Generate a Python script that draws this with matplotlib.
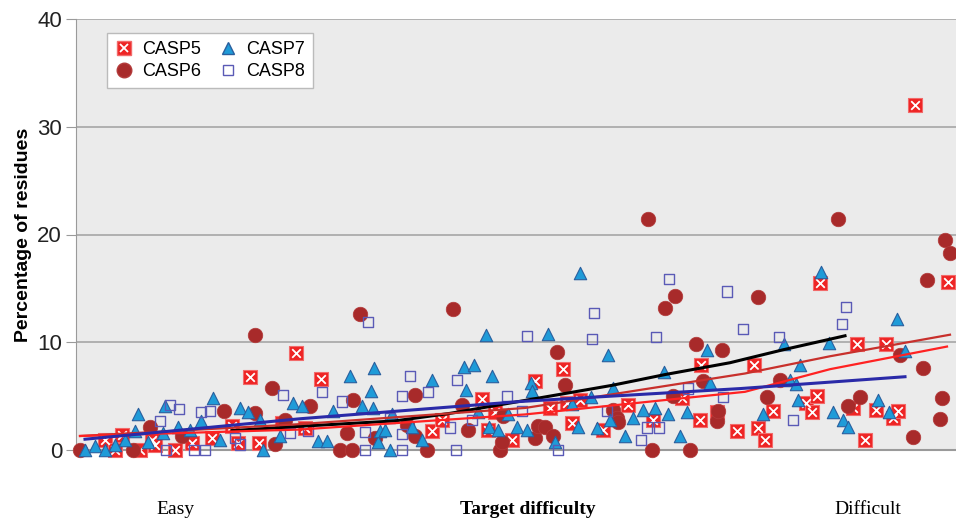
import matplotlib.pyplot as plt
from matplotlib.lines import Line2D
from matplotlib.legend_handler import HandlerTuple

# targets ranked from easy (left) to difficult (right); values are % of residues
casp5_x = [105, 115, 122, 140, 152, 155, 175, 192, 212, 232, 238, 250, 259, 282, 296, 305, 321,
           432, 442, 482, 488, 495, 512, 535, 550, 563, 567, 572, 580, 603, 628, 653, 682, 700,
           701, 717, 737, 754, 758, 765, 773, 806, 812, 817, 820, 853, 857, 865, 876, 886, 893,
           898, 915, 948]
casp5_y = [0.9, 0.0, 1.4, 0.0, 0.9, 0.5, 0.0, 0.65, 1.1, 2.2, 0.65, 6.8, 0.65, 2.5, 9.0, 2.0, 6.6,
           1.8, 2.8, 4.7, 1.9, 3.5, 0.9, 6.4, 3.9, 7.5, 4.4, 2.5, 4.6, 1.9, 4.2, 2.8, 4.8, 2.8,
           7.9, 3.5, 1.8, 7.9, 2.0, 0.9, 3.6, 4.4, 3.5, 5.0, 15.5, 3.9, 9.8, 0.9, 3.7, 9.8, 3.0,
           3.6, 32.0, 15.6]

casp6_x = [80, 133, 150, 182, 224, 255, 255, 272, 275, 285, 310, 340, 347, 352, 353, 360, 375, 407,
           415, 415, 427, 453, 462, 468, 500, 502, 503, 535, 538, 545, 553, 557, 565, 613, 617,
           618, 648, 652, 665, 673, 675, 690, 696, 703, 717, 718, 722, 758, 767, 780, 838, 848,
           860, 900, 913, 923, 927, 940, 942, 945, 950]
casp6_y = [0.0, 0.0, 2.1, 1.3, 3.6, 10.7, 3.4, 5.8, 0.6, 2.8, 4.1, 0.0, 1.6, 0.0, 4.6, 12.6, 1.1, 2.3,
           5.1, 1.3, 0.0, 13.1, 4.2, 1.9, 0.0, 0.7, 3.2, 1.1, 2.2, 2.1, 1.3, 9.1, 6.0, 3.7, 3.0,
           2.6, 21.4, 0.0, 13.2, 5.0, 14.3, 0.0, 9.8, 6.4, 2.7, 3.6, 9.3, 14.2, 4.9, 6.5, 21.4, 4.1,
           4.9, 8.8, 1.2, 7.6, 15.8, 2.9, 4.8, 19.5, 18.3]

casp7_x = [85, 95, 105, 115, 125, 135, 138, 148, 163, 165, 178, 190, 201, 213, 220, 240, 248, 260,
           263, 280, 293, 302, 318, 327, 333, 350, 362, 371, 373, 374, 378, 380, 385, 390, 392,
           412, 422, 432, 464, 466, 474, 478, 486, 489, 492, 498, 508, 517, 527, 531, 532, 548,
           555, 572, 578, 580, 591, 597, 608, 610, 613, 625, 633, 643, 655, 664, 668, 680, 687,
           707, 710, 763, 784, 790, 796, 798, 800, 821, 829, 833, 843, 848, 878, 889, 897, 905]
casp7_y = [0.0, 0.4, 0.0, 0.5, 0.9, 1.8, 3.3, 0.7, 1.6, 4.1, 2.1, 1.9, 2.7, 4.8, 0.9, 3.9, 3.5, 2.8,
           0.0, 1.3, 4.4, 4.1, 0.8, 0.8, 3.6, 6.9, 4.1, 5.5, 3.9, 7.6, 0.7, 1.8, 1.9, 0.0, 3.3,
           2.1, 0.9, 6.5, 7.7, 5.6, 7.9, 3.5, 10.7, 2.1, 6.9, 1.9, 3.3, 2.1, 1.9, 6.2, 5.5, 10.8,
           0.7, 4.3, 2.1, 16.4, 4.9, 2.0, 8.8, 2.8, 5.8, 1.3, 3.0, 3.7, 3.9, 7.2, 3.3, 1.3, 3.5,
           9.3, 6.2, 3.3, 9.8, 6.5, 6.1, 4.6, 7.9, 16.5, 9.9, 3.5, 2.8, 2.1, 4.6, 3.5, 12.2, 9.2]

casp8_x = [160, 166, 170, 179, 194, 201, 205, 210, 235, 240, 283, 290, 308, 322, 342, 365, 365, 368,
           390, 402, 402, 402, 410, 428, 450, 456, 457, 472, 507, 522, 527, 558, 592, 594, 607,
           641, 647, 656, 659, 669, 688, 723, 727, 743, 779, 793, 842, 846]
casp8_y = [2.7, 0.0, 4.2, 3.8, 0.0, 3.5, 0.0, 3.6, 1.1, 0.5, 5.1, 1.6, 1.8, 5.4, 4.5, 1.7, 0.0, 11.9,
           3.0, 5.0, 1.5, 0.0, 6.9, 5.4, 2.1, 0.0, 6.5, 2.8, 5.0, 3.6, 10.6, 0.0, 10.3, 12.7, 3.6,
           0.9, 2.1, 10.5, 2.1, 15.9, 5.7, 4.9, 14.7, 11.2, 10.5, 2.8, 11.7, 13.3]

# trend lines, read along their length
black_x = [232, 300, 395, 450, 525, 612, 665, 730, 783, 845]
black_y = [1.8, 2.2, 2.7, 3.4, 4.6, 6.0, 7.0, 8.1, 9.3, 10.6]
darkred_x = [80, 300, 525, 745, 830, 950]
darkred_y = [1.3, 2.4, 3.9, 7.1, 8.7, 10.7]
red_x = [80, 300, 525, 745, 830, 947]
red_y = [1.3, 1.9, 3.3, 5.4, 7.5, 9.6]
blue_x = [85, 300, 520, 740, 905]
blue_y = [1.0, 2.9, 4.5, 5.7, 6.8]

fig = plt.figure(figsize=(9.56, 5.2), dpi=100)
ax = fig.add_axes([76 / 956, 1 - 450 / 520, 1 - 76 / 956, (450 - 19) / 520])
ax.set_facecolor('#ebebeb')

# CASP5: red box with white cross
ax.scatter(casp5_x, casp5_y, marker='s', s=110, c='#ee2424', edgecolors='#f26a6a',
           linewidths=0.8, clip_on=False, zorder=3)
ax.scatter(casp5_x, casp5_y, marker='x', s=38, c='white', linewidths=1.3,
           clip_on=False, zorder=3)
ax.scatter(casp6_x, casp6_y, marker='o', s=110, c='#a82a2a', edgecolors='#b33a3a',
           linewidths=0.5, clip_on=False, zorder=3)
ax.scatter(casp7_x, casp7_y, marker='^', s=80, c='#1f9bd8', edgecolors='#2a5f9e',
           linewidths=0.8, clip_on=False, zorder=3)
ax.scatter(casp8_x, casp8_y, marker='s', s=55, facecolors='none', edgecolors='#5a5ab6',
           linewidths=1.0, clip_on=False, zorder=3)

ax.plot(black_x, black_y, color='black', lw=2.2, zorder=4)
ax.plot(darkred_x, darkred_y, color='#c8302c', lw=1.6, zorder=4)
ax.plot(red_x, red_y, color='#ff2222', lw=1.6, zorder=4)
ax.plot(blue_x, blue_y, color='#2a2aa8', lw=2.2, zorder=4)

ax.set_xlim(76, 956)
ax.set_ylim(0, 40)
ax.set_xticks([])
ax.set_yticks([0, 10, 20, 30, 40])
ax.yaxis.grid(True, color='#a6a6a6', lw=1.2)
ax.set_axisbelow(True)
for side in ['top', 'right']:
    ax.spines[side].set_visible(False)
ax.spines['left'].set_color('#9a9a9a')
ax.spines['bottom'].set_color('#9a9a9a')
ax.spines['bottom'].set_linewidth(1.5)
ax.tick_params(axis='y', length=7, color='#9a9a9a', labelsize=16, labelcolor='#222222', pad=3)
for lab in ax.get_yticklabels():
    lab.set_family('Liberation Sans')

ax.set_ylabel('Percentage of residues', fontsize=14, fontweight='bold',
              family='Liberation Sans', labelpad=4)

# legend proxies
p5 = (Line2D([], [], ls='none', marker='s', ms=10.5, mfc='#ee2424', mec='#f26a6a'),
      Line2D([], [], ls='none', marker='x', ms=6, mec='white', mew=1.3))
p6 = Line2D([], [], ls='none', marker='o', ms=10.5, mfc='#a82a2a', mec='#b33a3a')
p7 = Line2D([], [], ls='none', marker='^', ms=9, mfc='#1f9bd8', mec='#2a5f9e')
p8 = Line2D([], [], ls='none', marker='s', ms=7.5, mfc='none', mec='#5a5ab6')
leg = ax.legend([p5, p6, p7, p8], ['CASP5', 'CASP6', 'CASP7', 'CASP8'],
                handler_map={tuple: HandlerTuple(ndivide=1, pad=0)},
                ncol=2, loc='upper left', bbox_to_anchor=(0.035, 0.968), borderaxespad=0,
                prop={'family': 'Liberation Sans', 'size': 13},
                frameon=True, fancybox=False, edgecolor='#bbbbbb', framealpha=1,
                handlelength=1.0, handletextpad=0.5, columnspacing=1.0,
                labelspacing=0.3, borderpad=0.45)
leg.get_frame().set_linewidth(1.0)

fig.text(175 / 956, 1 - 510 / 520, 'Easy', ha='center', va='center',
         family='Liberation Serif', fontsize=14)
fig.text(528 / 956, 1 - 510 / 520, 'Target difficulty', ha='center', va='center',
         family='Liberation Serif', fontsize=14, fontweight='bold')
fig.text(868 / 956, 1 - 510 / 520, 'Difficult', ha='center', va='center',
         family='Liberation Serif', fontsize=14)

fig.savefig('out.png', dpi=100)
